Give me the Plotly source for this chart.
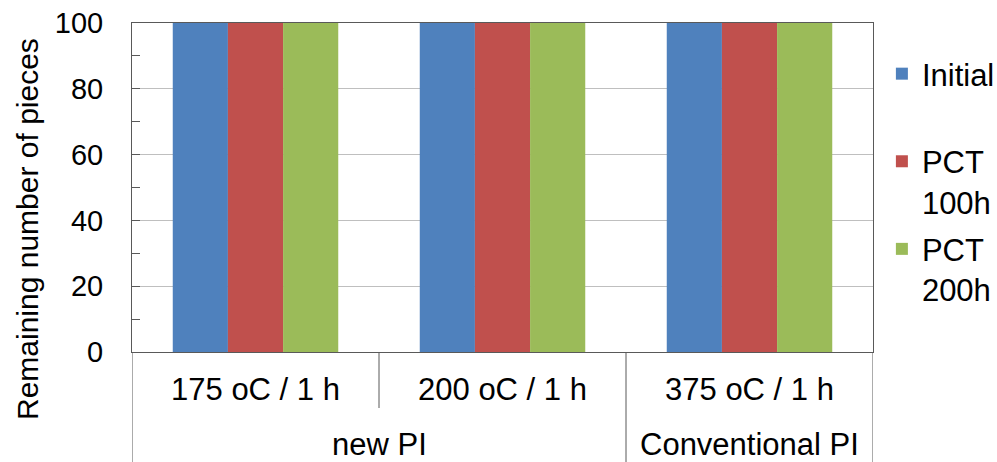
import plotly.graph_objects as go

# Sample groups and cure conditions
materials = ["new PI", "new PI", "Conventional PI"]
conditions = ["175 oC / 1 h", "200 oC / 1 h", "375 oC / 1 h"]

# Remaining pieces after each test stage
initial = [100, 100, 100]
pct_100h = [100, 100, 100]
pct_200h = [100, 100, 100]

series_names = ["Initial<br>\u00a0", "PCT<br>100h", "PCT<br>200h"]
series_colors = ["#4F81BD", "#C0504D", "#9BBB59"]

FONT = "Liberation Sans, Arial, sans-serif"
AXIS_COLOR = "#595959"

W, H = 997, 462
M_L, M_R, M_T, M_B = 132, 124, 23, 110
PLOT_H = H - M_T - M_B


def py(px):
    """Convert a pixel row (from the top of the page) to paper y."""
    return (H - M_B - px) / PLOT_H


def pxx(px):
    """Convert a pixel column to paper x."""
    return (px - M_L) / (W - M_L - M_R)


fig = go.Figure()
for i, (name, vals, color) in enumerate(zip(series_names, [initial, pct_100h, pct_200h], series_colors)):
    fig.add_trace(go.Bar(
        x=conditions,
        y=vals,
        name=name,
        legendgroup=f"g{i}",
        marker=dict(color=color, line=dict(width=0)),
    ))

# Material group labels under the condition labels, centred on their categories
groups = []
for idx, m in enumerate(materials):
    if groups and groups[-1][0] == m:
        groups[-1][2] = idx
    else:
        groups.append([m, idx, idx])

annotations = []
shapes = []
for m, first, last in groups:
    annotations.append(dict(
        x=(first + last) / 2, xref="x",
        y=py(444), yref="paper",
        text=m, showarrow=False,
        xanchor="center", yanchor="middle",
        font=dict(size=31, color="black"),
    ))

# Dividers below the axis: long ones at group edges, short ones between conditions
group_edges = {first - 0.5 for _, first, _ in groups} | {last + 0.5 for _, _, last in groups}
for k in range(len(conditions) + 1):
    edge = k - 0.5
    bottom = py(H) if edge in group_edges else py(408)
    shapes.append(dict(
        type="line", xref="x", yref="paper",
        x0=edge, x1=edge, y0=0, y1=bottom,
        line=dict(color=AXIS_COLOR, width=1),
    ))

annotations.append(dict(
    x=pxx(28), xref="paper",
    y=py(229), yref="paper",
    text="Remaining number of pieces", showarrow=False,
    textangle=-90, xanchor="center", yanchor="middle",
    font=dict(size=30, color="black"),
))

fig.update_layout(
    width=W,
    height=H,
    margin=dict(l=M_L, r=M_R, t=M_T, b=M_B, autoexpand=False),
    paper_bgcolor="white",
    plot_bgcolor="white",
    font=dict(family=FONT, size=30, color="black"),
    barmode="group",
    bargap=0.33,
    bargroupgap=0,
    showlegend=True,
    legend=dict(
        x=1.012, xanchor="left",
        y=0.927, yanchor="top",
        traceorder="grouped",
        tracegroupgap=4,
        valign="top",
        font=dict(size=31, color="black"),
        bgcolor="rgba(0,0,0,0)",
    ),
    annotations=annotations,
    shapes=shapes,
)

fig.update_xaxes(
    type="category",
    range=[-0.5, len(conditions) - 0.5],
    showline=True,
    linecolor=AXIS_COLOR,
    linewidth=1,
    mirror=True,
    ticks="",
    ticklabelstandoff=10,
    tickfont=dict(size=31, color="black"),
    showgrid=False,
)

fig.update_yaxes(
    range=[0, 100],
    dtick=20,
    showline=True,
    linecolor=AXIS_COLOR,
    linewidth=1,
    mirror=True,
    ticks="inside",
    ticklen=8,
    tickcolor=AXIS_COLOR,
    ticklabelstandoff=22,
    showgrid=True,
    gridcolor="#BFBFBF",
    gridwidth=1,
    zeroline=False,
    minor=dict(dtick=10, ticks="inside", ticklen=8, tickcolor=AXIS_COLOR, showgrid=False),
    tickfont=dict(size=29, color="black"),
)

fig.write_html("out.html")
